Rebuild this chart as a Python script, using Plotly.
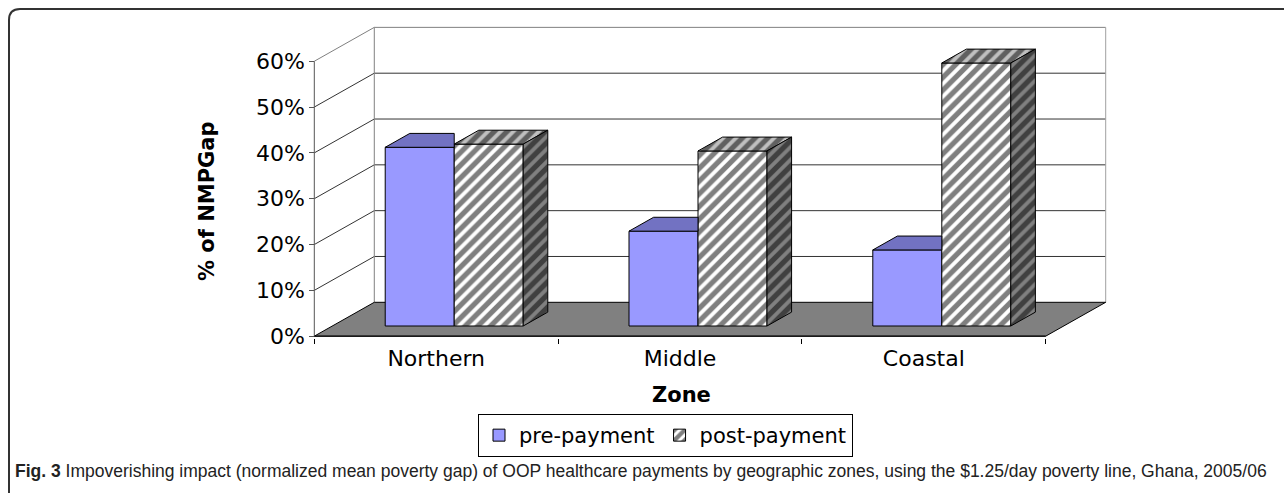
import plotly.graph_objects as go

# ---------------- data ----------------
zones = ["Northern", "Middle", "Coastal"]
pre_payment = [39.0, 20.7, 16.6]      # % of NMPGap
post_payment = [39.7, 38.2, 57.4]     # % of NMPGap
y_ticks = [0, 10, 20, 30, 40, 50, 60]
series_names = ["pre-payment", "post-payment"]
caption_bold = "Fig. 3"
caption_text = (" Impoverishing impact (normalized mean poverty gap) of OOP healthcare payments "
                "by geographic zones, using the $1.25/day poverty line, Ghana, 2005/06")

# ---------------- 3-D geometry (axis units) ----------------
DX, DY = 0.246, 7.39          # full floor depth projected onto x / y axes
F0, FD = 0.30, 0.41           # bar front depth fraction, bar depth fraction
W = 0.283                     # width of one bar
ox, oy = F0 * DX, F0 * DY     # front-face offset of the bars
dx, dy = FD * DX, FD * DY     # bar depth
XMIN, XMAX = -0.5, len(zones) - 0.5
YTOP = max(y_ticks)
XR = [XMIN - 0.03, XMAX + DX + 0.03]
YR = [-0.4, YTOP + DY + 0.3]

# layout in pixels
WIDTH, HEIGHT = 1284, 493
ML, MR, MT, MB = 307, 171, 26, 155
PW = WIDTH - ML - MR
PH = HEIGHT - MT - MB


def px(xp):
    return (xp - ML) / PW


def py(yp):
    return (HEIGHT - MB - yp) / PH


FONT = "DejaVu Sans, Verdana, Arial, sans-serif"
pos = list(range(len(zones)))
HATCH = dict(shape="/", fgcolor="black", size=9, solidity=0.58)

fig = go.Figure()

# front faces (real bars)
fig.add_trace(go.Bar(
    x=pos, y=pre_payment, base=oy, width=W, offset=ox - W, name=series_names[0],
    marker=dict(color="#9999FF", line=dict(color="black", width=1)),
    hoverinfo="skip"))
fig.add_trace(go.Bar(
    x=pos, y=post_payment, base=oy, width=W, offset=ox, name=series_names[1],
    marker=dict(color="white", line=dict(color="black", width=1),
                pattern=dict(HATCH, bgcolor="white")),
    hoverinfo="skip"))


def poly(xs, ys, fill, hatch_bg=None):
    kw = dict(x=xs + [xs[0]], y=ys + [ys[0]], mode="lines", fill="toself",
              line=dict(color="black", width=1), showlegend=False,
              hoverinfo="skip")
    if hatch_bg:
        kw["fillcolor"] = hatch_bg
        kw["fillpattern"] = dict(HATCH, bgcolor=hatch_bg)
    else:
        kw["fillcolor"] = fill
    fig.add_trace(go.Scatter(**kw))


for i in pos:
    # pre-payment top face (clipped behind the post-payment bar)
    xl = i + ox - W
    xr = i + ox
    t = oy + pre_payment[i]
    if post_payment[i] >= pre_payment[i]:
        poly([xl, xr, xr, xl + dx], [t, t, t + dy, t + dy], "#7272C2")
    else:
        poly([xl, xr, xr + dx, xl + dx], [t, t, t + dy, t + dy], "#7272C2")
    # post-payment top and side
    T = oy + post_payment[i]
    x2 = xr + W
    poly([xr, x2, x2 + dx, xr + dx], [T, T, T + dy, T + dy], None, "#C0C0C0")
    poly([x2, x2 + dx, x2 + dx, x2], [oy, oy + dy, T + dy, T], None, "#808080")

# ---------------- walls, floor, gridlines (decoration) ----------------
shapes = []
for v in y_ticks:
    col = "#808080" if v == YTOP else "#333333"
    if v > 0:
        shapes.append(dict(type="line", xref="x", yref="y", layer="below",
                           x0=XMIN + DX, x1=XMAX + DX, y0=v + DY, y1=v + DY,
                           line=dict(color=col, width=1)))
        shapes.append(dict(type="line", xref="x", yref="y", layer="below",
                           x0=XMIN, x1=XMIN + DX, y0=v, y1=v + DY,
                           line=dict(color=col, width=1)))
shapes.append(dict(type="line", xref="x", yref="y", layer="below",
                   x0=XMIN + DX, x1=XMIN + DX, y0=DY, y1=YTOP + DY,
                   line=dict(color="#808080", width=1)))
shapes.append(dict(type="line", xref="x", yref="y", layer="below",
                   x0=XMAX + DX, x1=XMAX + DX, y0=DY, y1=YTOP + DY,
                   line=dict(color="#A0A0A0", width=1)))
shapes.append(dict(type="path", xref="x", yref="y", layer="below",
                   path=f"M {XMIN},0 L {XMAX},0 L {XMAX + DX},{DY} L {XMIN + DX},{DY} Z",
                   fillcolor="#808080", line=dict(color="black", width=1)))
shapes.append(dict(type="line", xref="x", yref="y", layer="below",
                   x0=XMIN, x1=XMIN, y0=0, y1=YTOP,
                   line=dict(color="#555555", width=1)))
shapes.append(dict(type="line", xref="x", yref="y", layer="below",
                   x0=XMIN, x1=XMAX, y0=0, y1=0,
                   line=dict(color="black", width=1)))
# outer rounded frame of the figure panel
shapes.append(dict(type="path", xref="paper", yref="paper", layer="above",
                   path=(f"M {px(9)},{py(520)} L {px(9)},{py(20)} "
                         f"Q {px(9)},{py(9)} {px(20)},{py(9)} L {px(1300)},{py(9)}"),
                   line=dict(color="#333333", width=2)))

annotations = [
    dict(text="<b>% of NMPGap</b>", xref="paper", yref="paper",
         x=px(207), y=py(201), textangle=-90, showarrow=False,
         xanchor="center", yanchor="middle",
         font=dict(family=FONT, size=21, color="black")),
    dict(text="<b>Zone</b>", xref="paper", yref="paper",
         x=px(681), y=py(395), showarrow=False, xanchor="center", yanchor="middle",
         font=dict(family=FONT, size=21, color="black")),
    dict(text=f"<b>{caption_bold}</b>{caption_text}", xref="paper", yref="paper",
         x=px(13), y=py(471), showarrow=False, xanchor="left", yanchor="middle",
         font=dict(family="Liberation Sans, Arial, sans-serif",
                   size=17.5, color="#222222")),
]

fig.update_layout(
    width=WIDTH, height=HEIGHT,
    margin=dict(l=ML, r=MR, t=MT, b=MB, pad=0),
    paper_bgcolor="white", plot_bgcolor="white",
    barmode="overlay",
    showlegend=True,
    legend=dict(orientation="h", x=px(478), y=py(414), xanchor="left", yanchor="top",
                bordercolor="black", borderwidth=1, bgcolor="white",
                font=dict(family=FONT, size=21, color="black"),
                itemwidth=30, tracegroupgap=0),
    shapes=shapes,
    annotations=annotations,
    xaxis=dict(range=XR, tickvals=pos, ticktext=zones, ticks="", showgrid=False,
               zeroline=False, showline=False, ticklabelstandoff=5,
               tickfont=dict(family=FONT, size=22, color="black"),
               minor=dict(tickvals=[XMIN + k for k in range(len(zones) + 1)],
                          ticks="outside", ticklen=5, tickcolor="black", showgrid=False)),
    yaxis=dict(range=YR, tickvals=y_ticks, ticktext=[f"{v}%" for v in y_ticks],
               anchor="free", position=(XMIN - XR[0]) / (XR[1] - XR[0]),
               ticks="outside", ticklen=5, tickcolor="#555555", showgrid=False,
               zeroline=False, showline=False,
               tickfont=dict(family=FONT, size=22, color="black")),
)

fig.write_html("out.html", config={"displayModeBar": False},
               post_script="document.body.style.margin='0px';")
